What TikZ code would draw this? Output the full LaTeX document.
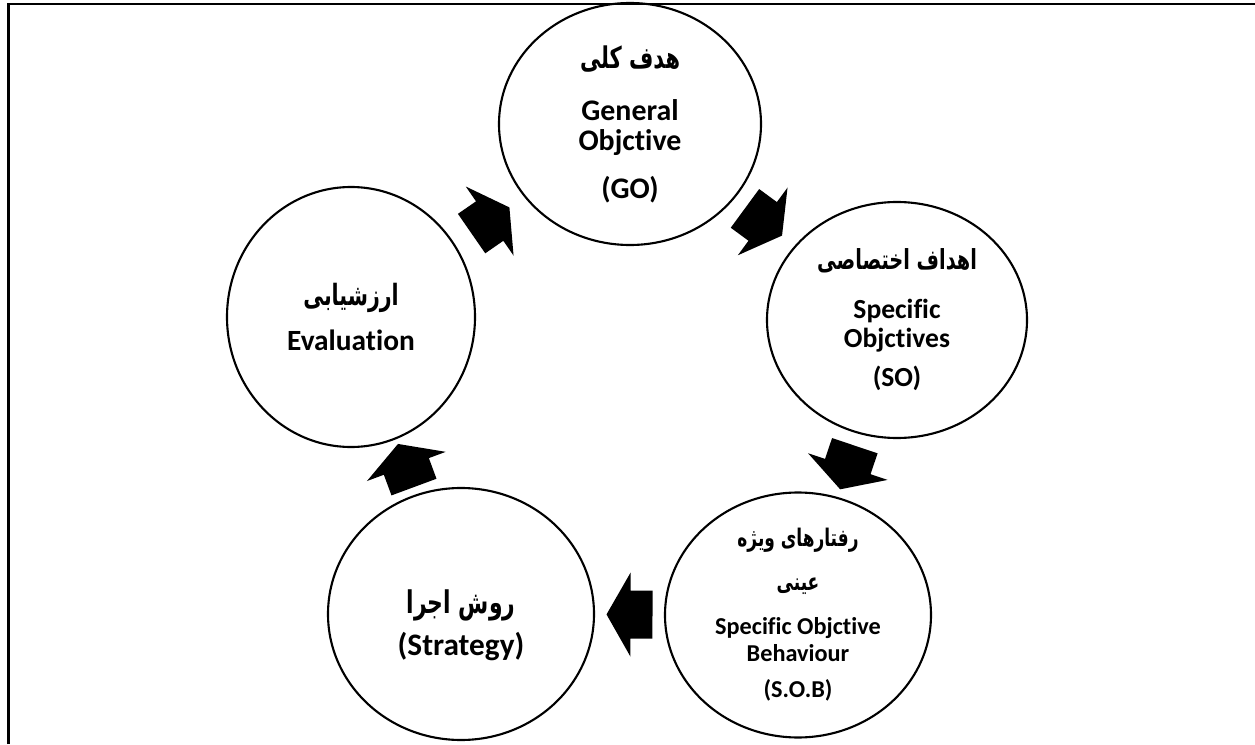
\documentclass[tikz,border=0pt]{standalone}
\usepackage{fontspec}
\usepackage{graphicx}
\setmainfont{Carlito}[Ligatures=CommonOff]
\newfontfamily\fa[Script=Arabic]{DejaVu Sans}
\TeXXeTstate=1
\usetikzlibrary{calc,shapes.geometric}
\newcommand{\fatext}[1]{\scalebox{0.7}[1]{\fa\beginR #1\endR}}
\tikzset{
  cyc/.style={ellipse, draw, line width=1.2pt, inner sep=0pt, align=center, font=\bfseries},
  pics/blockarrow/.style={code={
    \fill (-0.46,-0.48) -- (-0.02,-0.48) -- (-0.02,-0.84) -- (0.46,0) -- (-0.02,0.84) -- (-0.02,0.48) -- (-0.46,0.48) -- cycle;}}
}
\begin{document}
\begin{tikzpicture}
		%%%%% FRAME %%%%%
		\useasboundingbox (0,0) rectangle (25.1,14.88);
		\draw[line width=1.2pt] (0.17,0) -- (0.17,14.8) -- (25.1,14.8);
		
		%%%%% CIRCLES %%%%%
		\node[cyc, minimum width=5.24cm, minimum height=4.84cm, font=\bfseries\fontsize{17}{17}\selectfont] (go) at (12.6,12.4)
			{\fatext{هدف کلی}\\[13pt] General\\ Objctive\\[10pt] (GO)};
		\node[cyc, minimum width=5.2cm, minimum height=4.72cm, font=\bfseries\fontsize{15.7}{16.5}\selectfont] (so) at (17.94,8.48)
			{\fatext{اهداف اختصاصی}\\[11pt] Specific\\ Objctives\\[6pt] (SO)};
		\node[cyc, minimum width=5.32cm, minimum height=4.88cm, font=\bfseries\fontsize{13.8}{15}\selectfont] (sob) at (15.96,2.58)
			{\fatext{رفتارهای ویژه}\\[10pt] \fatext{عینی}\\[10pt] Specific Objctive\\ Behaviour\\[6pt] (S.O.B)};
		\node[cyc, minimum width=4.96cm, minimum height=5.2cm, font=\bfseries\fontsize{16.7}{16}\selectfont] (eval) at (7.02,8.54)
			{\fatext{ارزشیابی}\\[10pt] Evaluation};
		\node[cyc, minimum width=5.32cm, minimum height=5.04cm, font=\bfseries\fontsize{17.8}{20}\selectfont] (strat) at (9.22,2.6)
			{\rule{0pt}{26pt}\fatext{روش اجرا}\\[4pt] (Strategy)};
		
		%%%%% ARROWS %%%%%
		\foreach \src/\dst in {go/so, so/sob, sob/strat, strat/eval, eval/go}
			\path let \p1 = ($(\dst)-(\src)$), \n1 = {atan2(\y1,\x1)} in
				($(\src)!0.5!(\dst)$) pic[rotate=\n1] {blockarrow};
		
		%%%%% END %%%%%
\end{tikzpicture}
\end{document}
